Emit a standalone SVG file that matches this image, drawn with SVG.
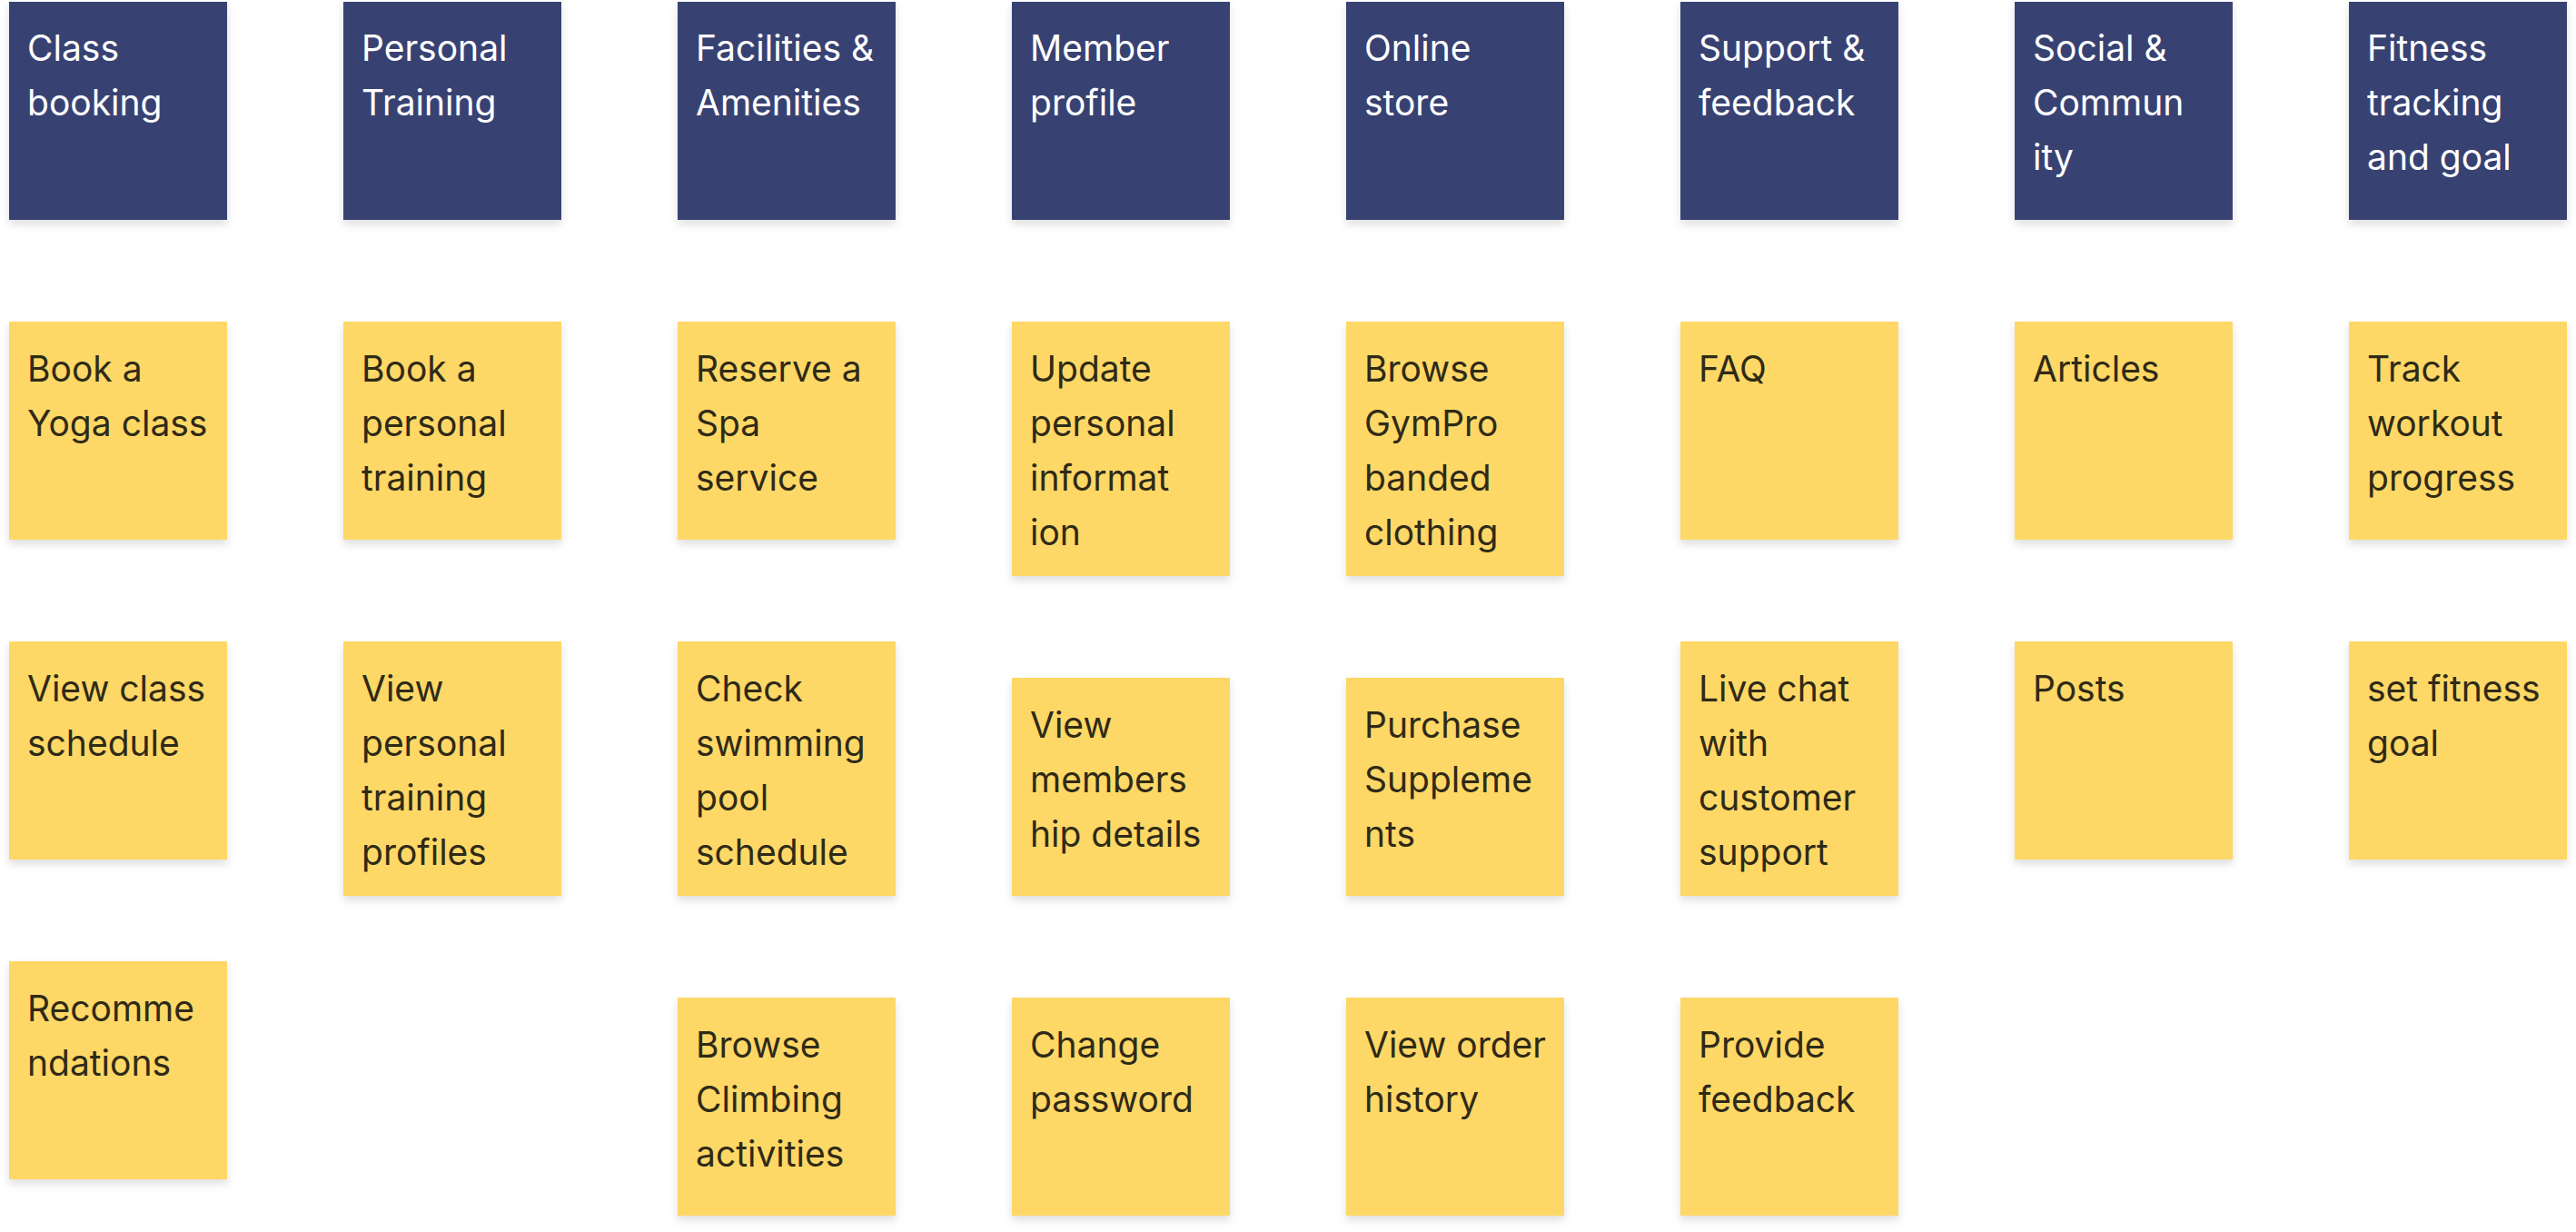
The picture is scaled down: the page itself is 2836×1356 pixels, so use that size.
<svg xmlns="http://www.w3.org/2000/svg" width="2836" height="1356" viewBox="0 0 2836 1356">
<defs>
<filter id="sh" x="-10%" y="-10%" width="120%" height="130%">
<feDropShadow dx="0" dy="5" stdDeviation="5" flood-color="#000" flood-opacity="0.13"/>
</filter>
<style>
.hd{fill:#394272;filter:url(#sh)}
.st{fill:#FED866;filter:url(#sh)}
.ht{font-family:Inter,"Noto Sans",sans-serif;font-size:39px;fill:#FFFFFF}
.tt{font-family:Inter,"Noto Sans",sans-serif;font-size:39px;fill:#2F2A17}
</style>
</defs>
<rect width="2836" height="1356" fill="#FFFFFF"/>
<g id="connectors"></g>

<g id="h1"><rect class="hd" x="10" y="2" width="240" height="240"/><text class="ht" x="30" y="67"><tspan x="30">Class</tspan><tspan x="30" dy="60">booking</tspan></text></g>
<g id="h2"><rect class="hd" x="378" y="2" width="240" height="240"/><text class="ht" x="398" y="67"><tspan x="398">Personal</tspan><tspan x="398" dy="60">Training</tspan></text></g>
<g id="h3"><rect class="hd" x="746" y="2" width="240" height="240"/><text class="ht" x="766" y="67"><tspan x="766">Facilities &amp;</tspan><tspan x="766" dy="60">Amenities</tspan></text></g>
<g id="h4"><rect class="hd" x="1114" y="2" width="240" height="240"/><text class="ht" x="1134" y="67"><tspan x="1134">Member</tspan><tspan x="1134" dy="60">profile</tspan></text></g>
<g id="h5"><rect class="hd" x="1482" y="2" width="240" height="240"/><text class="ht" x="1502" y="67"><tspan x="1502">Online</tspan><tspan x="1502" dy="60">store</tspan></text></g>
<g id="h6"><rect class="hd" x="1850" y="2" width="240" height="240"/><text class="ht" x="1870" y="67"><tspan x="1870">Support &amp;</tspan><tspan x="1870" dy="60">feedback</tspan></text></g>
<g id="h7"><rect class="hd" x="2218" y="2" width="240" height="240"/><text class="ht" x="2238" y="67"><tspan x="2238">Social &amp;</tspan><tspan x="2238" dy="60">Commun</tspan><tspan x="2238" dy="60">ity</tspan></text></g>
<g id="h8"><rect class="hd" x="2586" y="2" width="240" height="240"/><text class="ht" x="2606" y="67"><tspan x="2606">Fitness</tspan><tspan x="2606" dy="60">tracking</tspan><tspan x="2606" dy="60">and goal</tspan></text></g>

<g id="s1a"><rect class="st" x="10" y="354" width="240" height="240"/><text class="tt" x="30" y="420"><tspan x="30">Book a</tspan><tspan x="30" dy="60">Yoga class</tspan></text></g>
<g id="s1b"><rect class="st" x="10" y="706" width="240" height="240"/><text class="tt" x="30" y="772"><tspan x="30">View class</tspan><tspan x="30" dy="60">schedule</tspan></text></g>
<g id="s1c"><rect class="st" x="10" y="1058" width="240" height="240"/><text class="tt" x="30" y="1124"><tspan x="30">Recomme</tspan><tspan x="30" dy="60">ndations</tspan></text></g>

<g id="s2a"><rect class="st" x="378" y="354" width="240" height="240"/><text class="tt" x="398" y="420"><tspan x="398">Book a</tspan><tspan x="398" dy="60">personal</tspan><tspan x="398" dy="60">training</tspan></text></g>
<g id="s2b"><rect class="st" x="378" y="706" width="240" height="280"/><text class="tt" x="398" y="772"><tspan x="398">View</tspan><tspan x="398" dy="60">personal</tspan><tspan x="398" dy="60">training</tspan><tspan x="398" dy="60">profiles</tspan></text></g>

<g id="s3a"><rect class="st" x="746" y="354" width="240" height="240"/><text class="tt" x="766" y="420"><tspan x="766">Reserve a</tspan><tspan x="766" dy="60">Spa</tspan><tspan x="766" dy="60">service</tspan></text></g>
<g id="s3b"><rect class="st" x="746" y="706" width="240" height="280"/><text class="tt" x="766" y="772"><tspan x="766">Check</tspan><tspan x="766" dy="60">swimming</tspan><tspan x="766" dy="60">pool</tspan><tspan x="766" dy="60">schedule</tspan></text></g>
<g id="s3c"><rect class="st" x="746" y="1098" width="240" height="240"/><text class="tt" x="766" y="1164"><tspan x="766">Browse</tspan><tspan x="766" dy="60">Climbing</tspan><tspan x="766" dy="60">activities</tspan></text></g>

<g id="s4a"><rect class="st" x="1114" y="354" width="240" height="280"/><text class="tt" x="1134" y="420"><tspan x="1134">Update</tspan><tspan x="1134" dy="60">personal</tspan><tspan x="1134" dy="60">informat</tspan><tspan x="1134" dy="60">ion</tspan></text></g>
<g id="s4b"><rect class="st" x="1114" y="746" width="240" height="240"/><text class="tt" x="1134" y="812"><tspan x="1134">View</tspan><tspan x="1134" dy="60">members</tspan><tspan x="1134" dy="60">hip details</tspan></text></g>
<g id="s4c"><rect class="st" x="1114" y="1098" width="240" height="240"/><text class="tt" x="1134" y="1164"><tspan x="1134">Change</tspan><tspan x="1134" dy="60">password</tspan></text></g>

<g id="s5a"><rect class="st" x="1482" y="354" width="240" height="280"/><text class="tt" x="1502" y="420"><tspan x="1502">Browse</tspan><tspan x="1502" dy="60">GymPro</tspan><tspan x="1502" dy="60">banded</tspan><tspan x="1502" dy="60">clothing</tspan></text></g>
<g id="s5b"><rect class="st" x="1482" y="746" width="240" height="240"/><text class="tt" x="1502" y="812"><tspan x="1502">Purchase</tspan><tspan x="1502" dy="60">Suppleme</tspan><tspan x="1502" dy="60">nts</tspan></text></g>
<g id="s5c"><rect class="st" x="1482" y="1098" width="240" height="240"/><text class="tt" x="1502" y="1164"><tspan x="1502">View order</tspan><tspan x="1502" dy="60">history</tspan></text></g>

<g id="s6a"><rect class="st" x="1850" y="354" width="240" height="240"/><text class="tt" x="1870" y="420">FAQ</text></g>
<g id="s6b"><rect class="st" x="1850" y="706" width="240" height="280"/><text class="tt" x="1870" y="772"><tspan x="1870">Live chat</tspan><tspan x="1870" dy="60">with</tspan><tspan x="1870" dy="60">customer</tspan><tspan x="1870" dy="60">support</tspan></text></g>
<g id="s6c"><rect class="st" x="1850" y="1098" width="240" height="240"/><text class="tt" x="1870" y="1164"><tspan x="1870">Provide</tspan><tspan x="1870" dy="60">feedback</tspan></text></g>

<g id="s7a"><rect class="st" x="2218" y="354" width="240" height="240"/><text class="tt" x="2238" y="420">Articles</text></g>
<g id="s7b"><rect class="st" x="2218" y="706" width="240" height="240"/><text class="tt" x="2238" y="772">Posts</text></g>

<g id="s8a"><rect class="st" x="2586" y="354" width="240" height="240"/><text class="tt" x="2606" y="420"><tspan x="2606">Track</tspan><tspan x="2606" dy="60">workout</tspan><tspan x="2606" dy="60">progress</tspan></text></g>
<g id="s8b"><rect class="st" x="2586" y="706" width="240" height="240"/><text class="tt" x="2606" y="772"><tspan x="2606">set fitness</tspan><tspan x="2606" dy="60">goal</tspan></text></g>
</svg>
